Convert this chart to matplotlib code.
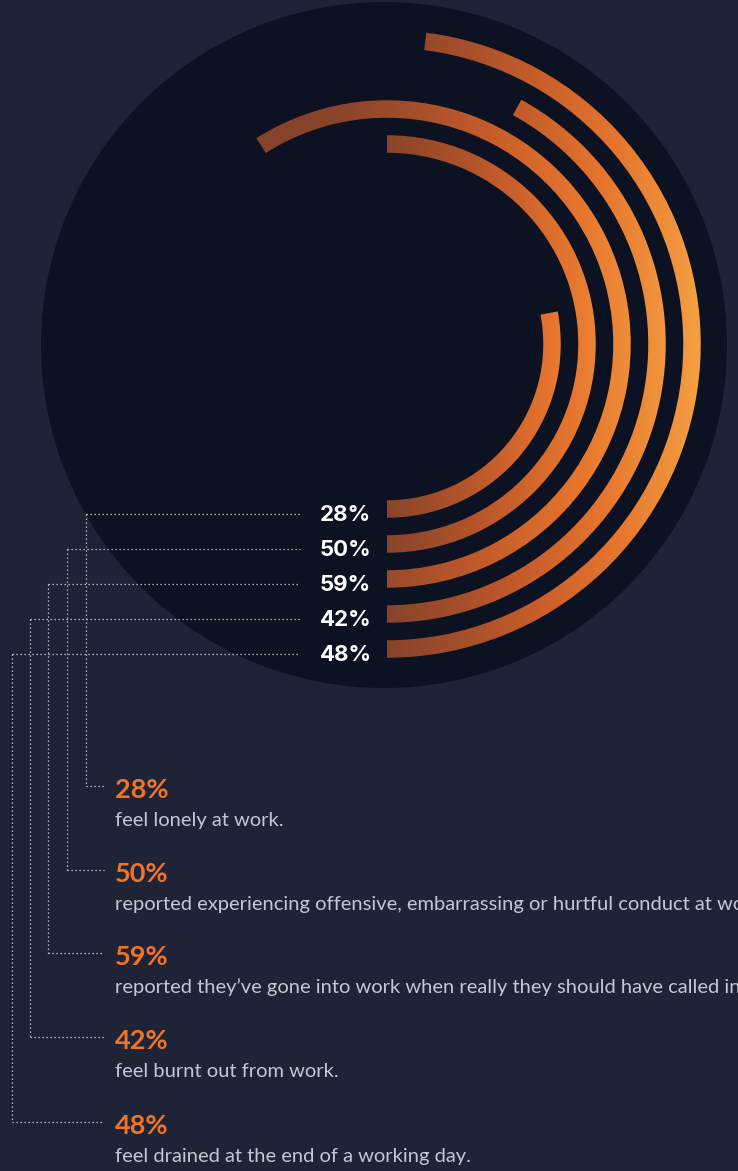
import numpy as np
import matplotlib.pyplot as plt
from matplotlib.patches import Circle, Wedge
from matplotlib.colors import LinearSegmentedColormap

# survey results, innermost ring first
pcts = [28, 50, 59, 42, 48]
descriptions = [
    "feel lonely at work.",
    "reported experiencing offensive, embarrassing or hurtful conduct at work.",
    "reported they\u2019ve gone into work when really they should have called in sick.",
    "feel burnt out from work.",
    "feel drained at the end of a working day.",
]

W, H = 738, 1171
BG = "#1e2436"
DISC = "#0c1222"
ORANGE = "#ef7428"
DOT = "#d4d8e0"

cx, cy = 387, 344          # ring centre (pixels, y down)
r0, step, ring_w = 165, 35, 17.5

ring_cmap = LinearSegmentedColormap.from_list(
    "ring", ["#86432a", "#a44e2a", "#c85e2a", "#e6752e", "#f39e41"])

fig = plt.figure(figsize=(W / 100, H / 100), dpi=100, facecolor=BG)
ax = fig.add_axes([0, 0, 1, 1])
ax.set_xlim(0, W)
ax.set_ylim(H, 0)
ax.set_aspect("equal")
ax.axis("off")

ax.add_patch(Circle((384, 345), 343, facecolor=DISC, edgecolor="none", zorder=1))

r_outer = r0 + step * (len(pcts) - 1)
for i, p in enumerate(pcts):
    r = r0 + step * i
    sweep = p * 3.6
    # y axis points down, so the ring runs from 6 o'clock anticlockwise on screen
    th1, th2 = 90 - sweep, 90
    wedge = Wedge((cx, cy), r + ring_w / 2, th1, th2, width=ring_w,
                  facecolor="none", edgecolor="none", zorder=2)
    ax.add_patch(wedge)

    th = np.radians(np.linspace(th1, th2, 500))
    xs = cx + r * np.cos(th)
    bx0, bx1 = xs.min() - ring_w / 2, xs.max() + ring_w / 2
    gx = np.linspace(bx0, bx1, 300)
    t = 0.5 * (gx - bx0) / (bx1 - bx0) + 0.5 * (gx - cx) / r_outer
    img = ring_cmap(np.clip(t, 0, 1))[None, :, :]
    ys = cy + r * np.sin(th)
    im = ax.imshow(img, extent=(bx0, bx1, ys.max() + 20, ys.min() - 20),
                   aspect="auto", interpolation="bilinear", zorder=3)
    im.set_clip_path(wedge)

# value labels beside the ring ends, with dotted leaders down to the notes
lead_x = [86, 67, 48, 30, 12]
note_base = [798, 882, 965, 1049, 1134]
for i, p in enumerate(pcts):
    ly = cy + r0 + step * i + 6
    ax.text(320, ly, f"{p}%", color="white", fontsize=16, fontweight="bold",
            family=["Inter", "DejaVu Sans"], va="center", ha="left", zorder=5)

    conn_y = note_base[i] - 12
    dots = dict(color=DOT, lw=0.9, ls=(0, (1, 2.2)), zorder=4)
    ax.plot([lead_x[i], 300], [ly - 1, ly - 1], **dots)
    ax.plot([lead_x[i], lead_x[i]], [ly - 1, conn_y], **dots)
    ax.plot([lead_x[i], 104], [conn_y, conn_y], **dots)

    ax.text(115, note_base[i], f"{p}%", color=ORANGE, fontsize=19.5,
            fontweight="bold", family=["Lato", "DejaVu Sans"], va="baseline",
            ha="left", zorder=5)
    ax.text(115, note_base[i] + 28, descriptions[i], color="#c3c8d2",
            fontsize=14.5, fontweight="normal", family=["Lato", "DejaVu Sans"],
            va="baseline", ha="left", zorder=5)

fig.savefig("out.png", dpi=100, facecolor=BG)
